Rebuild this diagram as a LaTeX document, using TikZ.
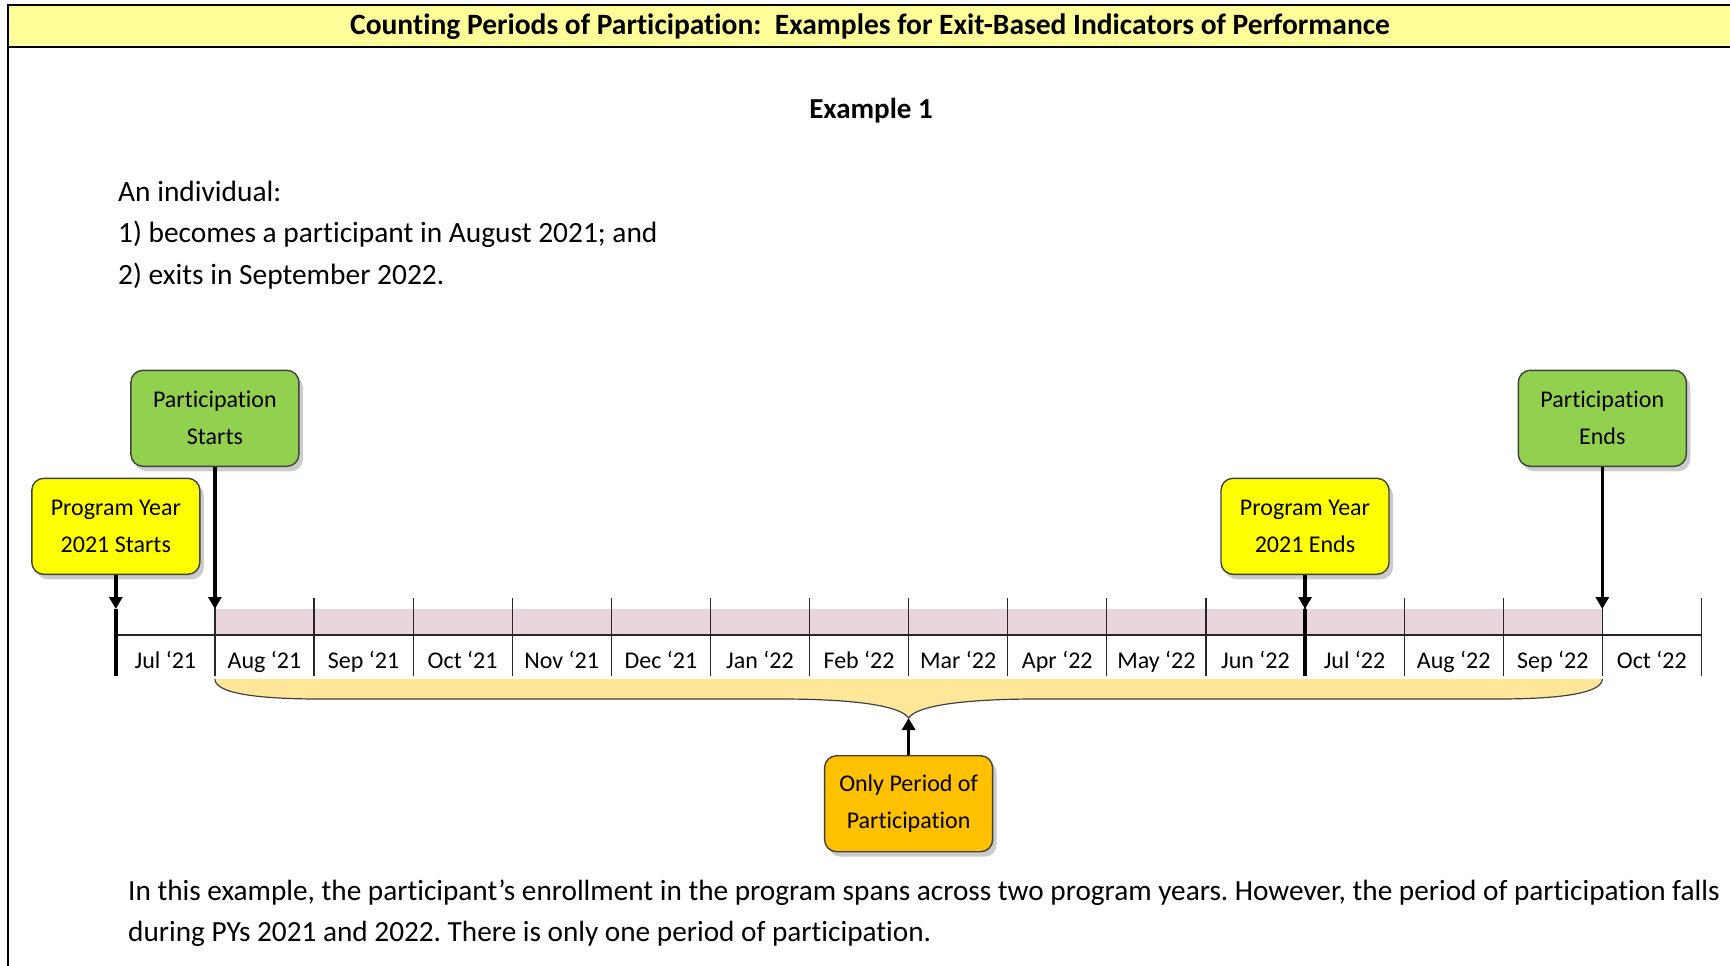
\documentclass[tikz,border=0pt]{standalone}
\usepackage{fontspec}
\setmainfont{Carlito}[Ligatures=NoCommon]
\usepackage{tikz}
\usetikzlibrary{arrows.meta,shadows,calc,positioning}
\frenchspacing

\definecolor{bannerfill}{HTML}{FFFF99}
\definecolor{pyyellow}{HTML}{FFFF00}
\definecolor{partgreen}{HTML}{92D050}
\definecolor{onlyorange}{HTML}{FFC000}
\definecolor{bandpink}{HTML}{E8D5DE}
\definecolor{bracefill}{HTML}{FFE699}

\tikzset{
  labelbox/.style={draw=black!75, line width=1.4pt, rounded corners=12pt,
    minimum width=168pt, minimum height=96pt, align=center,
    font=\fontsize{24}{37}\selectfont,
    drop shadow={shadow xshift=4pt, shadow yshift=-5pt, fill=black!45, opacity=0.45}},
  pybox/.style={labelbox, fill=pyyellow},
  partbox/.style={labelbox, fill=partgreen},
  onlybox/.style={labelbox, fill=onlyorange},
  month/.style={font=\fontsize{24}{28}\selectfont, inner sep=0pt, anchor=base},
  tickline/.style={line width=1.2pt, black!85},
  bigarrow/.style={line width=3.5pt, -{Triangle[length=12pt,width=13pt]}},
}

\begin{document}
\begin{tikzpicture}[x=1pt, y=-1pt]
\useasboundingbox (0,0) rectangle (1730,966);

% header
\fill[bannerfill] (8,5) rectangle (1730,47);
\draw[line width=2.2pt] (1730,5) -- (8,5) -- (8,966);
\draw[line width=2.2pt] (8,47) -- (1730,47);
\node[font=\fontsize{29.5}{33}\selectfont\bfseries] (title) at (870,27) {Counting Periods of Participation:\ \ Examples for Exit-Based Indicators of Performance};

\node[font=\fontsize{29}{34}\selectfont\bfseries] (ex) at (871,111) {Example 1};
\node[anchor=west, align=left, inner sep=0pt, font=\fontsize{29.4}{41.5}\selectfont] (intro) at (118,235)
  {An individual:\\1) becomes a participant in August 2021; and\\2) exits in September 2022.};

% months
\foreach \i in {0,...,16} {
  \coordinate (top\i) at ({115.8+99.1*\i},598);
  \coordinate (mid\i) at ({115.8+99.1*\i},609);
  \coordinate (ax\i) at ({115.8+99.1*\i},635);
  \coordinate (bot\i) at ({115.8+99.1*\i},676);
}
\fill[bandpink] (mid1) rectangle (ax15);
\foreach \i in {1,...,16} \draw[tickline] (top\i) -- (bot\i);
\draw[tickline] (ax0) -- (ax16);
\foreach \m [count=\i from 0] in {Jul ‘21,Aug ‘21,Sep ‘21,Oct ‘21,Nov ‘21,Dec ‘21,Jan ‘22,Feb ‘22,Mar ‘22,Apr ‘22,May ‘22,Jun ‘22,Jul ‘22,Aug ‘22,Sep ‘22,Oct ‘22}
  \node[month] (m\i) at ($(ax\i)+(49.55,33)$) {\m};

% boxes
\node[pybox, above=34pt of mid0] (pys) {Program Year\\2021 Starts};
\node[partbox, above=142pt of mid1] (ps) {Participation\\Starts};
\node[pybox, above=34pt of mid12] (pye) {Program Year\\2021 Ends};
\node[partbox, above=142pt of mid15] (pe) {Participation\\Ends};

\draw[bigarrow] (pys) -- (mid0);
\draw[line width=3.5pt] (mid0) -- (bot0);
\draw[bigarrow] (ps) -- (mid1);
\draw[bigarrow] (pye) -- (mid12);
\draw[line width=3.5pt] (mid12) -- (bot12);
\draw[bigarrow] (pe) -- (mid15);

% brace under the period
\coordinate (tip) at (908.6,718);
\filldraw[fill=bracefill, draw=black!75, line width=1.2pt] (214.9,679) .. controls (214.9,692) and (250,699) .. (320,699)
  -- (780,699) .. controls (850,699) and (900,705) .. (tip)
  .. controls (917.2,705) and (967.2,699) .. (1037.2,699)
  -- (1497.2,699) .. controls (1567.2,699) and (1602.3,692) .. (1602.3,679);

\node[onlybox, below=37pt of tip] (only) {Only Period of\\Participation};
\draw[bigarrow] (only) -- (tip);

\node[anchor=west, align=left, inner sep=0pt, font=\fontsize{29.25}{41}\selectfont] (note) at (128,913.5)
  {In this example, the participant’s enrollment in the program spans across two program years. However, the period of participation falls\\during PYs 2021 and 2022. There is only one period of participation.};
\end{tikzpicture}
\end{document}
